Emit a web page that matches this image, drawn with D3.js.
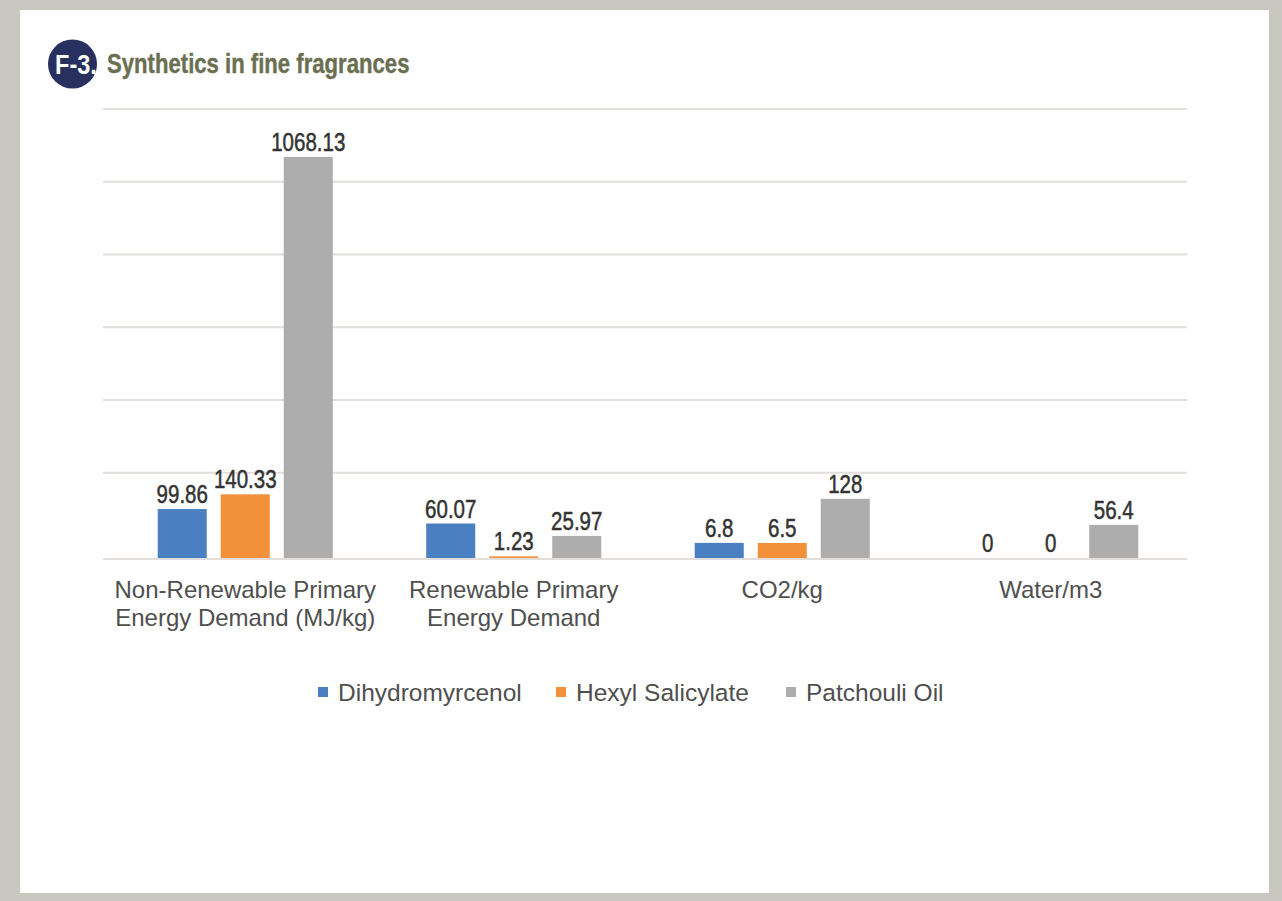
<!DOCTYPE html>
<html>
<head>
<meta charset="utf-8">
<script src="https://cdn.jsdelivr.net/npm/d3@7"></script>
<style>
  html, body { margin: 0; padding: 0; background: #c9c8c0; }
  svg { display: block; }
</style>
</head>
<body>
<svg id="chart" width="1282" height="901"></svg>
<script>
// Chart data
const categories = [
  ["Non-Renewable Primary", "Energy Demand (MJ/kg)"],
  ["Renewable Primary", "Energy Demand"],
  ["CO2/kg"],
  ["Water/m3"]
];
const seriesNames = ["Dihydromyrcenol", "Hexyl Salicylate", "Patchouli Oil"];
const dihydromyrcenol = [99.86, 60.07, 6.8, 0];
const hexylSalicylate = [140.33, 1.23, 6.5, 0];
const patchouliOil = [1068.13, 25.97, 128, 56.4];
const gridTicks = [200, 400, 600, 800, 1000, 1200];
const seriesColors = ["#4a7fc1", "#f2913a", "#adadad"];

const seriesValues = [dihydromyrcenol, hexylSalicylate, patchouliOil];

const svg = d3.select("#chart");
const W = 1282, H = 901;
const sans = "'Liberation Sans', Arial, Helvetica, sans-serif";

// Condensed text: regular face squeezed horizontally
function narrowText(sel, x, y, sx) {
  return sel.append("text")
    .attr("transform", `translate(${x},${y}) scale(${sx},1)`)
    .attr("font-family", sans);
}

// Panel background with border
svg.append("rect").attr("x", 0).attr("y", 0).attr("width", W).attr("height", H).attr("fill", "#c9c8c0");
svg.append("rect").attr("x", 20).attr("y", 10).attr("width", 1249).attr("height", 883).attr("fill", "#ffffff");

// Title badge
svg.append("circle").attr("cx", 72.5).attr("cy", 64).attr("r", 24.5).attr("fill", "#27305f");
narrowText(svg, 76, 74, 0.84)
  .attr("text-anchor", "middle").attr("font-weight", "bold").attr("font-size", 28)
  .attr("fill", "#ffffff").text("F-3.");
narrowText(svg, 107, 73, 0.82)
  .attr("font-weight", "bold").attr("font-size", 27).attr("fill", "#6b6f52")
  .attr("stroke", "#6b6f52").attr("stroke-width", 0.4)
  .text("Synthetics in fine fragrances");

// Scales: value axis compresses the smallest values near the baseline
const plotLeft = 103, plotRight = 1187;
const y = d3.scaleLinear().domain([0, 1.5, 6.5, 1200]).range([558, 556, 543, 109]);

const x0 = d3.scaleBand().domain(d3.range(categories.length)).range([111, 1185])
  .paddingInner(0.348).paddingOuter(0.174);
const x1 = d3.scaleBand().domain(d3.range(seriesNames.length)).range([0, x0.bandwidth()])
  .paddingInner(0.222).paddingOuter(0);

// Gridlines
const grid = svg.append("g");
grid.selectAll("line").data([0].concat(gridTicks)).join("line")
  .attr("x1", plotLeft).attr("x2", plotRight)
  .attr("y1", d => y(d) + (d === 0 ? 1 : 0)).attr("y2", d => y(d) + (d === 0 ? 1 : 0))
  .attr("stroke", "#e2dedb").attr("stroke-width", 2);

// Bars and value labels
const groups = svg.append("g").selectAll("g").data(categories).join("g")
  .attr("transform", (d, i) => `translate(${x0(i)},0)`);

groups.each(function(cat, ci) {
  const g = d3.select(this);
  seriesValues.forEach((vals, si) => {
    const v = vals[ci];
    const h = y(0) - y(v);
    if (h > 0) {
      g.append("rect")
        .attr("x", x1(si)).attr("width", x1.bandwidth())
        .attr("y", y(v)).attr("height", h)
        .attr("fill", seriesColors[si]);
    }
    narrowText(g, x1(si) + x1.bandwidth() / 2, y(v) - 6, 0.82)
      .attr("text-anchor", "middle")
      .attr("font-size", 25).attr("fill", "#333333")
      .attr("stroke", "#333333").attr("stroke-width", 0.5)
      .text(v);
  });
});

// Category labels
const catLabels = svg.append("g").selectAll("text").data(categories).join("text")
  .attr("x", (d, i) => x0(i) + x0.bandwidth() / 2)
  .attr("y", 598)
  .attr("text-anchor", "middle")
  .attr("font-family", sans)
  .attr("font-size", 24).attr("fill", "#4f4f4f");
catLabels.selectAll("tspan").data(d => d).join("tspan")
  .attr("x", function() { return d3.select(this.parentNode).attr("x"); })
  .attr("dy", (d, i) => i === 0 ? 0 : 28)
  .text(d => d);

// Legend
const legendX = [318, 556, 786];
const legend = svg.append("g").selectAll("g").data(seriesNames).join("g")
  .attr("transform", (d, i) => `translate(${legendX[i]},692)`);
legend.append("rect").attr("x", 0).attr("y", -5).attr("width", 10).attr("height", 10)
  .attr("fill", (d, i) => seriesColors[i]);
legend.append("text").attr("x", 20).attr("y", 8.5)
  .attr("font-family", sans)
  .attr("font-size", 24.5).attr("fill", "#4f4f4f")
  .text(d => d);
</script>
</body>
</html>
